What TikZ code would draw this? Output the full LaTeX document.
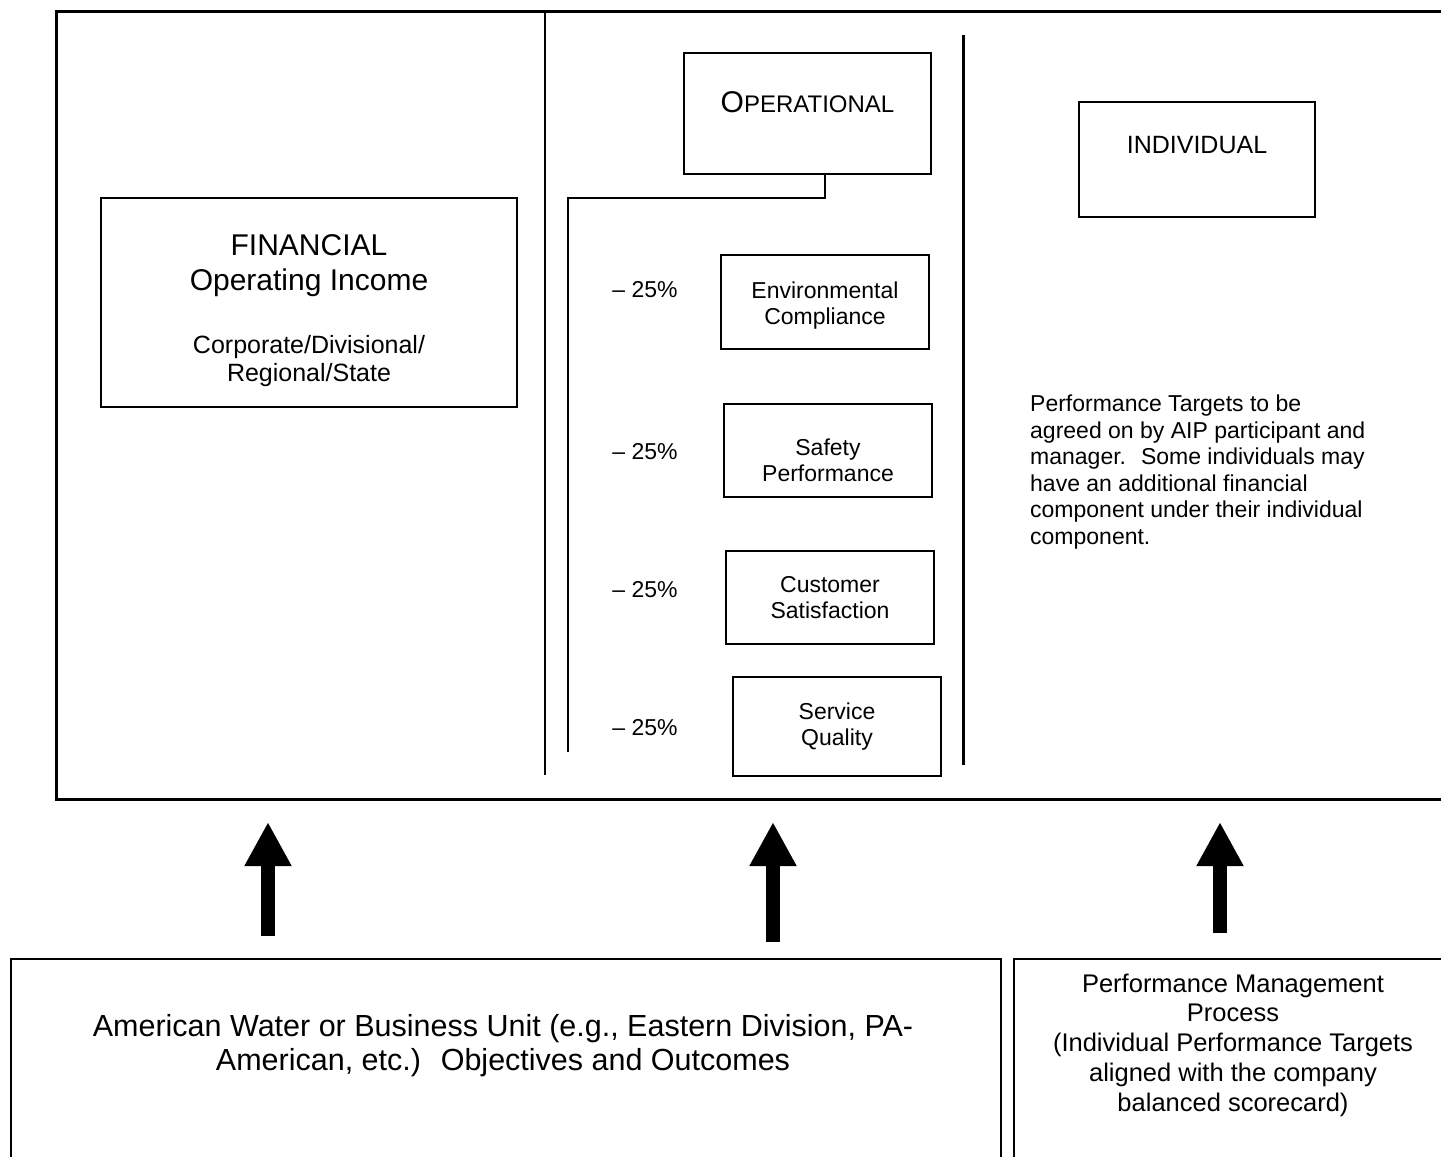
\documentclass[tikz,border=0pt]{standalone}
\usepackage{fontspec}
\setmainfont{Liberation Sans}
\usepackage{tikz}
\usetikzlibrary{
  arrows.meta, % for the thick triangle arrow tips
  positioning % for relative placement
}
\tikzset{
  box/.style={ % style for the boxes in the top panel
    rectangle,draw,line width=1.5pt, % thin outlined rectangle
    inner sep=0pt, % no padding, sizes are set by hand
    align=center, % centred multi-line text
  },
  panel/.style={ % style for the open boxes at the bottom
    rectangle,draw,line width=2pt,
    anchor=north west,
  },
  rule/.style={ % the vertical dividing rules
    line width=#1,
  },
  conn/.style={ % the bracket from the operational box
    line width=2pt,
  },
  bigarrow/.style={ % style for the block arrows
    line width=14pt,
    -{Triangle[width=44pt,length=44pt]},
  },
  pct/.style={ % the weight labels
    font=\fontsize{23}{26}\selectfont,
  },
}
% strut on a first line, to push a text block down in its box
\newcommand{\pushdown}[1]{\rule{0pt}{#1}}

\begin{document}
\begin{tikzpicture}[x=1pt,y=-1pt]
\useasboundingbox (0,0) rectangle (1441,1157);
% top panel, open at the right
\node[rectangle,draw,line width=3pt,anchor=north west,minimum width=1420,minimum height=788] (frame) at (55,10) {};
\coordinate (d1t) at (545,10);
\coordinate (d1b) at (545,775);
\coordinate (d2t) at (963,35);
\coordinate (d2b) at (963,765);
\draw[rule=1.5pt] (d1t) -- (d1b);
\draw[rule=3pt] (d2t) -- (d2b);
% financial
\node[box, minimum width=416, minimum height=209, font=\fontsize{30}{28}\selectfont] (fin) at (309,302.5) {\pushdown{38pt}FINANCIAL\\[7pt]Operating Income\\[35pt]{\fontsize{25}{28}\selectfont Corporate/Divisional/}\\{\fontsize{25}{28}\selectfont Regional/State}};
% operational
\node[box, minimum width=247, minimum height=121, text depth=23pt] (ops) at (807.5,113.5) {{\fontsize{30}{30}\selectfont O}{\fontsize{24}{30}\selectfont PERATIONAL}};
\node[box, minimum width=208, minimum height=94, font=\fontsize{23}{26}\selectfont] (env) at (825,302) {\pushdown{23pt}Environmental\\Compliance};
\node[box, minimum width=208, minimum height=93, font=\fontsize{23}{26}\selectfont] (safe) at (828,450.5) {\pushdown{37pt}Safety\\Performance};
\node[box, minimum width=208, minimum height=93, font=\fontsize{23}{26}\selectfont] (cust) at (830,597.5) {Customer\\Satisfaction};
\node[box, minimum width=208, minimum height=99, font=\fontsize{23}{26}\selectfont] (serv) at (837,726.5) {Service\\Quality};
\node[pct] (penv) at (645,290) {\textendash{} 25\%};
\node[pct] (psafe) at (645,452) {\textendash{} 25\%};
\node[pct] (pcust) at (645,590) {\textendash{} 25\%};
\node[pct] (pserv) at (645,728) {\textendash{} 25\%};
\coordinate (opsend) at (568,752);
\draw[conn] (ops.south -| env) -- ++(0,23) -| (opsend);
% individual
\node[box, minimum width=236, minimum height=115, text depth=29pt, font=\fontsize{25}{28}\selectfont] (ind) at (1197,159.5) {INDIVIDUAL};
\node[anchor=north west, inner sep=0pt, align=left, font=\fontsize{23}{26.5}\selectfont] (note) at (1030,395) {Performance Targets to be\\agreed on by AIP participant and\\manager.~ Some individuals may\\have an additional financial\\component under their individual\\component.};
% bottom boxes
\node[panel, minimum width=990, minimum height=230] (unit) at (10,958) {};
\node[panel, minimum width=460, minimum height=230] (pmp) at (1013,958) {};
\node[align=center, font=\fontsize{30.5}{34}\selectfont] (unittxt) at (503,1046) {American Water or Business Unit (e.g., Eastern Division, PA-\\American, etc.)~ Objectives and Outcomes};
\node[align=center, font=\fontsize{25.5}{29.7}\selectfont] (pmptxt) at (1233,1045) {Performance Management\\Process\\(Individual Performance Targets\\aligned with the company\\balanced scorecard)};
% arrows
\coordinate (a1b) at (268,936);
\coordinate (a1t) at (268,822);
\coordinate (a2b) at (773,942);
\coordinate (a2t) at (773,822);
\coordinate (a3b) at (1220,933);
\coordinate (a3t) at (1220,822);
\draw[bigarrow] (a1b) -- (a1t);
\draw[bigarrow] (a2b) -- (a2t);
\draw[bigarrow] (a3b) -- (a3t);
\end{tikzpicture}
\end{document}
